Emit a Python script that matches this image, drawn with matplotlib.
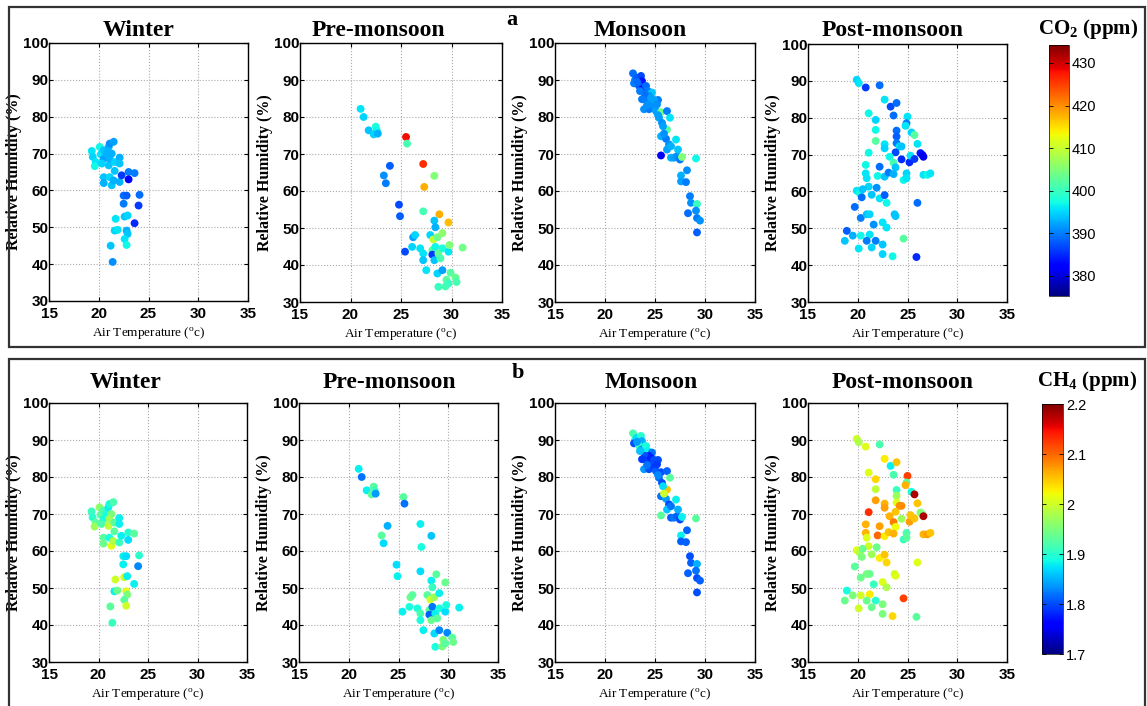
import matplotlib
matplotlib.use('Agg')
import matplotlib.pyplot as plt
from matplotlib.colors import Normalize
from matplotlib.patches import Rectangle

# --- data: air temperature (deg C), RH (%), CO2 (ppm), CH4 (ppm)
winter_t = [19.3, 19.4, 19.7, 19.6, 20.1, 20.2, 20.5, 20.5, 20.3, 20.8,
            21.0, 21.1, 21.5, 21.3, 21.0, 21.1, 21.6, 20.5, 20.5, 21.1,
            21.3, 21.5, 21.6, 22.1, 22.1, 22.1, 22.3, 23.0, 23.0, 23.6,
            22.5, 22.8, 24.1, 24.0, 22.5, 23.6, 21.7, 22.6, 22.9, 21.6,
            21.9, 22.8, 22.9, 22.6, 22.8, 21.2, 21.4]
winter_rh = [70.7, 69.1, 67.7, 66.6, 71.8, 69.8, 70.9, 68.6, 67.3, 70.0,
             71.8, 72.7, 73.2, 70.0, 66.8, 68.6, 67.7, 63.6, 62.0, 63.6,
             61.4, 62.7, 65.3, 68.9, 67.3, 62.3, 64.1, 65.0, 63.0, 64.7,
             58.6, 58.6, 58.8, 55.9, 56.4, 51.1, 52.3, 52.9, 53.2, 49.1,
             49.3, 49.1, 48.2, 46.8, 45.2, 45.0, 40.6]
winter_co2 = [396, 395, 396, 397, 397, 396, 394, 392, 395, 393,
              393, 391, 392, 393, 394, 393, 395, 394, 393, 395,
              394, 393, 394, 393, 394, 393, 386, 390, 382, 390,
              389, 388, 389, 386, 390, 385, 396, 394, 395, 395,
              396, 393, 394, 396, 397, 394, 391]
winter_ch4 = [1.91, 1.90, 1.93, 1.97, 1.96, 1.93, 1.92, 1.89, 1.92, 1.89,
              1.88, 1.89, 1.92, 1.95, 1.99, 1.97, 1.93, 1.93, 1.94, 1.89,
              2.01, 1.98, 1.93, 1.88, 1.88, 1.91, 1.88, 1.90, 1.87, 1.93,
              1.88, 1.87, 1.90, 1.83, 1.88, 1.88, 2.00, 2.00, 1.88, 1.88,
              1.94, 2.01, 1.95, 1.93, 2.00, 1.93, 1.91]

pre_t = [21.0, 21.3, 21.8, 22.5, 22.6, 22.3, 22.7, 25.5, 25.6, 23.9,
         23.3, 23.5, 27.2, 27.3, 28.3, 24.8, 24.9, 27.2, 28.8, 29.7,
         28.3, 28.4, 27.9, 28.2, 28.6, 29.1, 26.2, 26.4, 26.1, 25.4,
         26.9, 27.2, 27.2, 28.1, 28.4, 28.1, 28.3, 28.7, 28.9, 29.1,
         29.7, 29.8, 31.1, 27.5, 28.6, 29.1, 29.9, 29.5, 30.4, 30.5,
         28.7, 29.4, 29.7]
pre_rh = [82.2, 80.0, 76.4, 77.4, 76.4, 75.3, 75.5, 74.6, 72.8, 66.8,
          64.2, 62.1, 67.3, 61.1, 64.1, 56.3, 53.2, 54.5, 53.7, 51.5,
          52.0, 50.2, 48.1, 46.9, 47.5, 48.6, 47.5, 48.1, 44.9, 43.6,
          44.5, 43.1, 41.3, 44.0, 44.9, 42.8, 41.3, 43.1, 41.8, 44.5,
          43.6, 45.4, 44.7, 38.6, 37.7, 38.6, 37.9, 36.0, 36.6, 35.4,
          34.1, 34.2, 35.0]
pre_co2 = [396, 395, 394, 398, 397, 395, 393, 428, 401, 388,
           391, 390, 426, 418, 405, 387, 388, 401, 418, 417,
           394, 393, 395, 410, 404, 406, 392, 395, 395, 387,
           396, 396, 394, 402, 397, 386, 394, 403, 401, 398,
           396, 405, 404, 396, 395, 392, 402, 402, 403, 401,
           400, 401, 400]
pre_ch4 = [1.88, 1.82, 1.88, 1.93, 1.91, 1.93, 1.84, 1.93, 1.82, 1.85,
           1.93, 1.87, 1.88, 1.89, 1.86, 1.87, 1.88, 1.87, 1.93, 1.94,
           1.88, 1.91, 1.93, 2.00, 1.97, 1.88, 1.94, 1.93, 1.89, 1.88,
           1.89, 1.92, 1.89, 1.93, 1.82, 1.81, 1.94, 1.88, 1.93, 1.89,
           1.87, 1.89, 1.88, 1.88, 1.87, 1.83, 1.83, 1.95, 1.93, 1.94,
           1.89, 1.95, 1.93]

mon_t = [22.8, 23.0, 22.9, 23.2, 23.6, 23.7, 23.4, 23.7, 24.1, 24.3,
         24.7, 24.4, 24.0, 23.7, 24.2, 24.6, 23.9, 24.4, 24.9, 25.3,
         25.1, 25.6, 26.2, 26.5, 25.4, 25.7, 26.2, 25.6, 26.1, 26.4,
         27.1, 26.2, 25.6, 26.6, 26.9, 27.2, 27.3, 27.5, 27.7, 29.1,
         28.2, 27.6, 27.6, 28.1, 28.5, 28.6, 29.2, 28.3, 29.1, 29.2,
         29.5, 29.2, 24.6, 24.9, 25.2, 24.2, 23.5, 25.3, 25.8, 25.9,
         26.6, 23.2]
mon_rh = [91.8, 90.0, 89.1, 90.6, 91.1, 89.7, 88.4, 87.5, 88.4, 87.0,
          86.6, 85.7, 85.7, 84.8, 84.3, 83.9, 82.1, 82.1, 83.0, 84.6,
          81.6, 81.3, 81.6, 79.8, 79.8, 78.4, 76.6, 74.8, 74.1, 72.6,
          73.9, 71.2, 69.6, 69.0, 69.0, 69.4, 71.2, 68.5, 69.2, 68.8,
          65.6, 64.2, 62.6, 62.4, 58.6, 56.8, 56.5, 54.0, 54.7, 52.7,
          52.0, 48.8, 85.2, 84.6, 83.4, 83.2, 87.0, 80.5, 77.5, 75.5,
          72.1, 89.5]
mon_co2 = [389, 390, 390, 388, 387, 384, 388, 383, 389, 390,
           394, 391, 389, 390, 390, 391, 391, 390, 391, 390,
           392, 404, 390, 396, 392, 391, 402, 393, 390, 391,
           396, 392, 382, 393, 392, 391, 394, 390, 405, 397,
           391, 393, 392, 390, 390, 391, 400, 389, 391, 390,
           391, 388, 392, 392, 391, 391, 390, 392, 392, 391,
           393, 389]
mon_ch4 = [1.92, 1.88, 1.80, 1.87, 1.90, 1.85, 1.91, 1.84, 1.89, 1.88,
           1.82, 1.78, 1.80, 1.79, 1.79, 1.80, 1.84, 1.80, 1.79, 1.80,
           1.81, 1.80, 1.81, 1.93, 1.82, 1.80, 2.05, 1.82, 1.84, 1.80,
           1.88, 1.86, 1.93, 1.81, 1.82, 1.81, 1.85, 1.80, 1.88, 1.93,
           1.81, 1.88, 1.81, 1.81, 1.80, 1.81, 1.85, 1.81, 1.82, 1.80,
           1.81, 1.80, 1.78, 1.80, 1.79, 1.82, 1.86, 1.83, 1.87, 2.00,
           1.82, 1.84]

post_t = [19.9, 20.1, 20.8, 22.2, 22.7, 23.3, 23.9, 21.1, 21.8, 23.6,
          25.0, 24.9, 24.8, 25.4, 25.7, 21.8, 23.9, 23.9, 23.9, 21.8,
          22.7, 22.7, 21.1, 24.2, 24.4, 23.8, 23.2, 23.6, 23.8, 24.4,
          25.2, 25.3, 25.7, 26.3, 26.5, 26.6, 26.0, 26.6, 27.0, 27.3,
          24.9, 24.6, 24.9, 20.8, 20.8, 20.9, 21.1, 22.0, 22.2, 22.7,
          23.1, 23.6, 19.9, 20.2, 20.4, 20.5, 21.4, 21.9, 22.2, 22.7,
          22.9, 19.7, 20.3, 20.9, 21.2, 21.6, 22.5, 22.9, 23.7, 23.8,
          18.9, 19.5, 18.7, 20.3, 21.2, 20.9, 21.8, 20.1, 21.4, 22.5,
          22.5, 23.5, 24.6, 26.0, 25.9]
post_rh = [90.3, 89.4, 88.2, 88.8, 84.9, 83.0, 84.0, 81.2, 79.4, 80.6,
           80.3, 78.5, 77.8, 76.0, 75.3, 76.7, 76.5, 74.9, 73.1, 73.7,
           72.8, 71.7, 70.5, 72.2, 72.2, 70.6, 69.4, 67.8, 66.5, 68.7,
           67.9, 69.7, 68.8, 70.4, 69.9, 69.4, 72.9, 64.5, 64.5, 64.9,
           64.9, 63.1, 63.6, 67.2, 64.9, 63.6, 61.3, 64.2, 66.7, 64.0,
           65.1, 64.7, 60.2, 59.5, 58.4, 60.6, 59.1, 61.0, 58.1, 59.0,
           56.9, 55.8, 52.8, 53.8, 53.8, 51.0, 51.6, 50.2, 53.8, 53.3,
           49.3, 48.0, 46.6, 48.0, 48.3, 46.6, 46.6, 44.5, 44.8, 45.6,
           43.0, 42.4, 47.2, 56.9, 42.2]
post_co2 = [395, 396, 386, 389, 396, 387, 389, 397, 395, 389,
            396, 390, 396, 395, 402, 397, 389, 388, 390, 402,
            396, 395, 397, 396, 394, 387, 397, 401, 394, 385,
            385, 396, 386, 384, 383, 381, 396, 396, 397, 396,
            395, 397, 396, 397, 396, 396, 395, 397, 389, 394,
            390, 393, 396, 397, 389, 394, 394, 391, 396, 388,
            397, 389, 390, 394, 395, 391, 396, 396, 394, 394,
            388, 393, 394, 397, 396, 390, 390, 396, 395, 394,
            395, 397, 402, 389, 385]
post_ch4 = [2.00, 1.98, 2.01, 1.92, 2.03, 1.88, 2.05, 2.01, 2.04, 1.92,
            2.12, 1.93, 2.06, 1.89, 2.18, 1.99, 1.91, 1.97, 2.01, 2.07,
            2.06, 2.07, 2.13, 2.08, 2.08, 2.05, 2.06, 2.09, 2.02, 1.97,
            2.07, 2.05, 2.05, 1.96, 1.95, 2.18, 2.05, 2.06, 2.07, 2.05,
            1.92, 1.91, 1.93, 2.06, 2.06, 2.01, 2.00, 2.10, 2.07, 2.03,
            2.05, 2.06, 2.01, 1.98, 1.95, 1.94, 1.97, 1.94, 2.03, 2.05,
            2.04, 1.93, 1.94, 1.95, 1.94, 1.91, 2.01, 1.98, 2.00, 2.01,
            1.89, 1.95, 1.94, 2.00, 2.03, 1.94, 1.90, 2.00, 1.94, 1.95,
            1.95, 2.04, 2.12, 2.01, 1.93]

seasons = ['Winter', 'Pre-monsoon', 'Monsoon', 'Post-monsoon']
temps = [winter_t, pre_t, mon_t, post_t]
hums = [winter_rh, pre_rh, mon_rh, post_rh]
co2 = [winter_co2, pre_co2, mon_co2, post_co2]
ch4 = [winter_ch4, pre_ch4, mon_ch4, post_ch4]

W, H = 1147, 706
SERIF = ['Liberation Serif', 'DejaVu Serif']
NARROW = ['Liberation Sans Narrow', 'Liberation Sans', 'DejaVu Sans']
plt.rcParams['mathtext.default'] = 'regular'


def px(left, top, right, bottom):
    return [left / W, 1 - bottom / H, (right - left) / W, (bottom - top) / H]


def main():
    fig = plt.figure(figsize=(W / 100, H / 100), dpi=100)

    # row boxes
    for top, bottom in [(7, 347), (359, 712)]:
        fig.patches.append(Rectangle((9 / W, 1 - bottom / H), (1145 - 9) / W, (bottom - top) / H,
                                     transform=fig.transFigure, fill=False,
                                     edgecolor='#333333', linewidth=1.6))

    rows = [
        dict(vals=co2, norm=Normalize(375.3, 434.2), ticks=[380, 390, 400, 410, 420, 430],
             ticklabels=['380', '390', '400', '410', '420', '430'],
             boxes=[(49, 43, 248, 301), (300, 43, 502, 302), (555, 43, 755, 302), (808, 44, 1007, 302)],
             cbar=(1049, 45, 1069, 296), cbar_title='CO$_2$ (ppm)', cbar_title_xy=(1088, 34),
             title_x=[139, 378, 640, 893], title_y=36, letter='a', letter_xy=(512, 25)),
        dict(vals=ch4, norm=Normalize(1.7, 2.2), ticks=[1.7, 1.8, 1.9, 2.0, 2.1, 2.2],
             ticklabels=['1.7', '1.8', '1.9', '2', '2.1', '2.2'],
             boxes=[(49, 403, 247, 662), (299, 403, 498, 662), (555, 403, 755, 662), (808, 403, 1007, 662)],
             cbar=(1042, 404, 1063, 654), cbar_title='CH$_4$ (ppm)', cbar_title_xy=(1087, 386),
             title_x=[126, 389, 651, 903], title_y=388, letter='b', letter_xy=(518, 378)),
    ]

    for row in rows:
        sc = None
        for i, season in enumerate(seasons):
            ax = fig.add_axes(px(*row['boxes'][i]))
            sc = ax.scatter(temps[i], hums[i], c=row['vals'][i], cmap='jet', norm=row['norm'],
                            s=32, edgecolors='none', zorder=3)
            ax.set_xlim(15, 35)
            ax.set_ylim(30, 100)
            ax.set_xticks([15, 20, 25, 30, 35])
            ax.set_yticks([30, 40, 50, 60, 70, 80, 90, 100])
            ax.grid(True, linestyle=':', color='#aaaaaa', linewidth=0.8)
            ax.tick_params(direction='in', top=True, right=True, length=3, width=0.8)
            ax.tick_params(axis='x', pad=4)
            ax.tick_params(axis='y', pad=0.5)
            for lab in ax.get_xticklabels() + ax.get_yticklabels():
                lab.set_family(NARROW)
                lab.set_fontweight('bold')
                lab.set_fontsize(11)
            for sp in ax.spines.values():
                sp.set_linewidth(1.0)
            ax.set_xlabel('Air Temperature ($^{o}$c)', family=SERIF, fontsize=9.5, labelpad=3)
            ax.set_ylabel('Relative Humidity (%)', family=SERIF, fontweight='bold', fontsize=11.5,
                          labelpad=0.5)
            fig.text(row['title_x'][i] / W, 1 - row['title_y'] / H, season, family=SERIF,
                     fontweight='bold', fontsize=17, ha='center', va='baseline')

        fig.text(row['letter_xy'][0] / W, 1 - row['letter_xy'][1] / H, row['letter'], family=SERIF,
                 fontweight='bold', fontsize=16, ha='center', va='baseline')

        cax = fig.add_axes(px(*row['cbar']))
        cb = fig.colorbar(sc, cax=cax)
        cb.set_ticks(row['ticks'])
        cb.set_ticklabels(row['ticklabels'])
        cb.outline.set_linewidth(0.5)
        cax.tick_params(direction='in', left=True, right=True, length=3, width=0.6, pad=2,
                        labelsize=10.5)
        for lab in cax.get_yticklabels():
            lab.set_family(['Liberation Sans', 'DejaVu Sans'])
        fig.text(row['cbar_title_xy'][0] / W, 1 - row['cbar_title_xy'][1] / H, row['cbar_title'],
                 family=SERIF, fontweight='bold', fontsize=15, ha='center', va='baseline')

    fig.savefig('out.png', dpi=100)


if __name__ == '__main__':
    main()
